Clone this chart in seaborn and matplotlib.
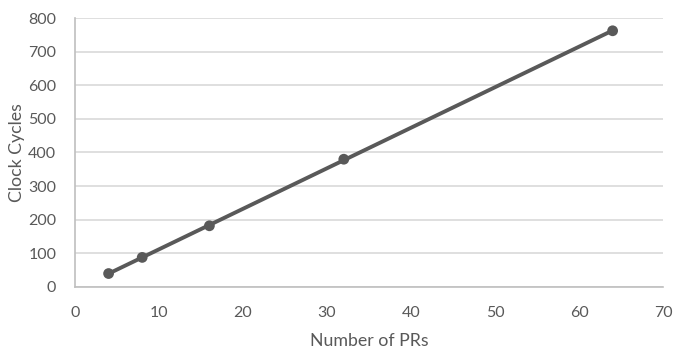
import matplotlib
matplotlib.use("Agg")
import matplotlib.pyplot as plt
import seaborn as sns
import pandas as pd

num_prs = [4, 8, 16, 32, 64]
clock_cycles = [40, 88, 182, 380, 762]
x_ticks = [0, 10, 20, 30, 40, 50, 60, 70]
y_ticks = [0, 100, 200, 300, 400, 500, 600, 700, 800]

df = pd.DataFrame({"Number of PRs": num_prs, "Clock Cycles": clock_cycles})

sns.set_theme(style="white")
plt.rcParams['font.family'] = ['Lato', 'DejaVu Sans']

fig = plt.figure(figsize=(6.88, 3.6), dpi=100)
ax = fig.add_axes([0.1090, 0.2028, 0.8547, 0.7472])

grey = "#595959"
sns.regplot(data=df, x="Number of PRs", y="Clock Cycles", ax=ax, scatter=False,
            ci=None, truncate=True, line_kws={"color": grey, "lw": 2.8, "zorder": 3})
sns.scatterplot(data=df, x="Number of PRs", y="Clock Cycles", ax=ax, color=grey,
                s=60, edgecolor="none", zorder=4)

ax.set_xlim(0, 70)
ax.set_ylim(0, 800)
ax.set_xticks(x_ticks)
ax.set_yticks(y_ticks)
ax.grid(axis="y", color="#d9d9d9", lw=1.2)
ax.set_axisbelow(True)
for s in ["top", "right"]:
    ax.spines[s].set_visible(False)
for s in ["left", "bottom"]:
    ax.spines[s].set_color("#bfbfbf")
    ax.spines[s].set_linewidth(1.2)
ax.tick_params(axis="both", colors=grey, labelsize=11.5, length=0, pad=13.5)
ax.set_xlabel("Number of PRs", fontsize=12.8, color=grey, labelpad=9.5)
ax.set_ylabel("Clock Cycles", fontsize=12.8, color=grey, labelpad=2.5)

fig.savefig("out.png", dpi=100)
